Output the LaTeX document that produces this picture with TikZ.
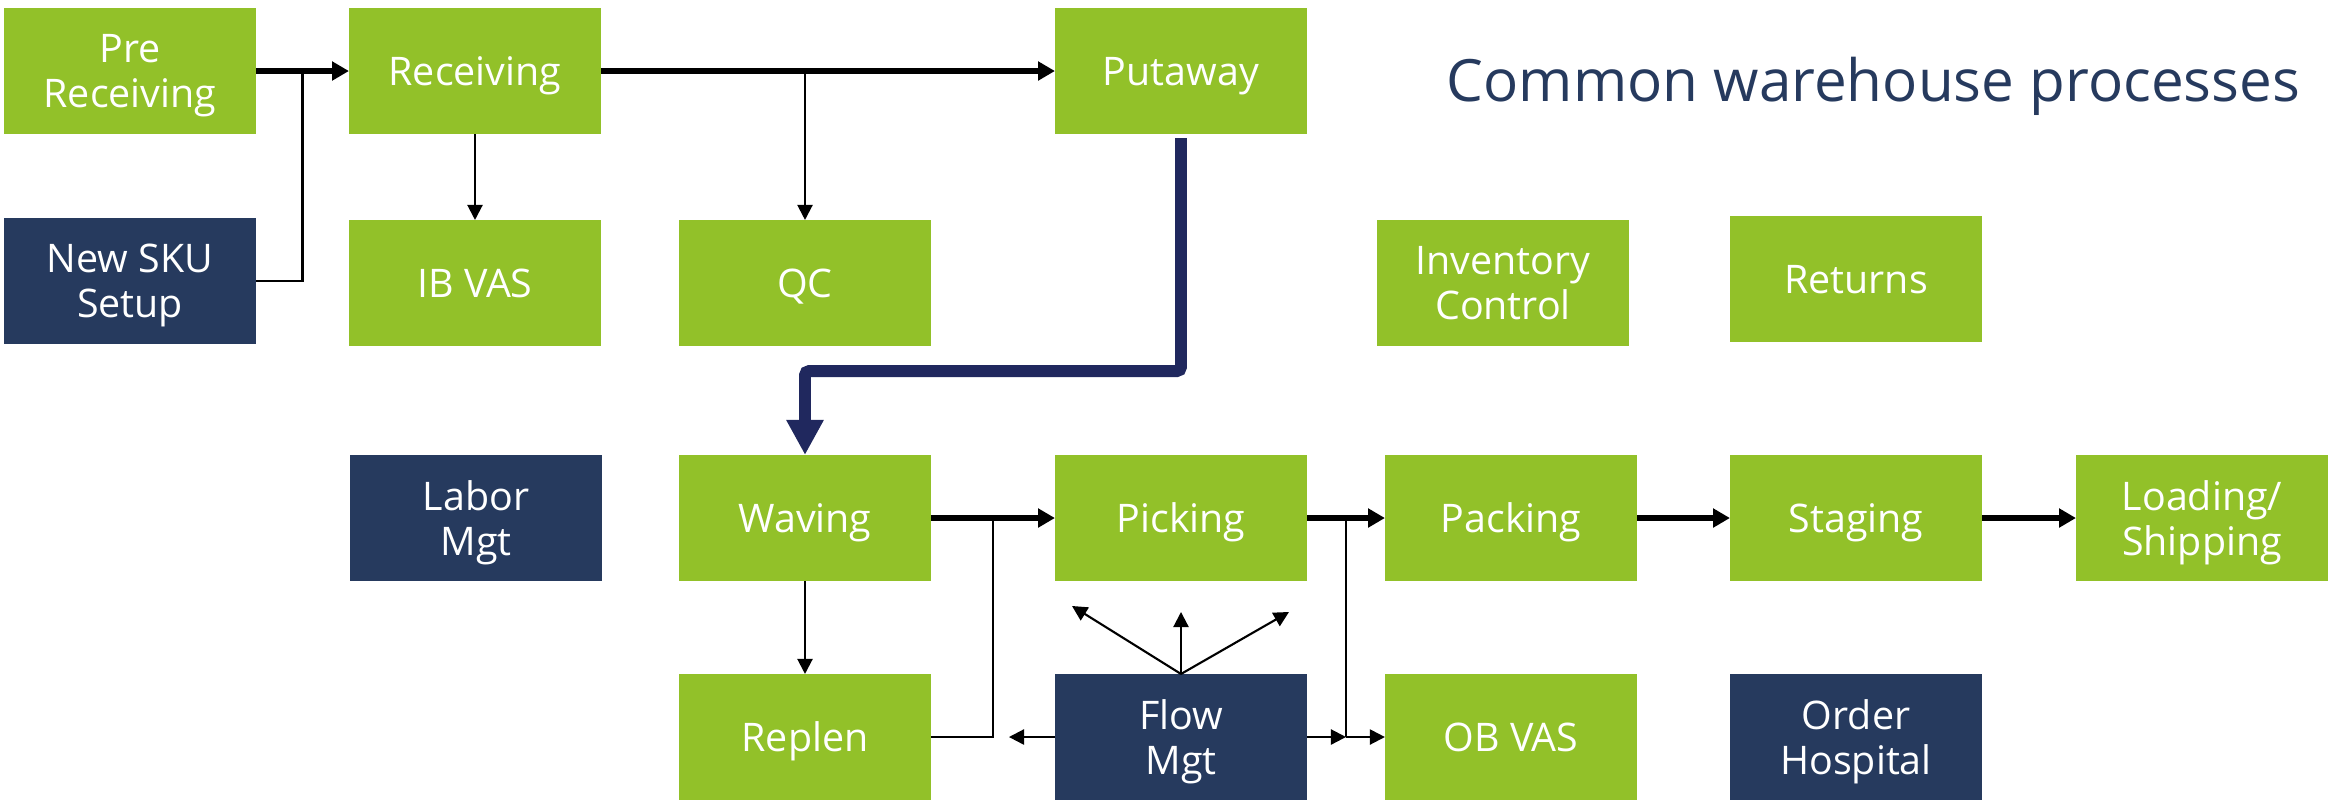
\documentclass[tikz,border=0pt]{standalone}
\usepackage{fontspec}
\setmainfont{Open Sans}
\usepackage{tikz}
\usetikzlibrary{calc,arrows.meta}

\definecolor{boxgreen}{RGB}{146,193,41}
\definecolor{boxnavy}{RGB}{38,58,94}
\definecolor{linknavy}{RGB}{32,40,94}

\tikzset{
  proc/.style={minimum width=2.52cm,minimum height=1.26cm,inner sep=0pt,outer sep=0pt,
    text depth=0pt,text=white,align=center,font=\fontsize{11.2}{12.8}\selectfont},
  gbox/.style={proc,fill=boxgreen},
  nbox/.style={proc,fill=boxnavy},
  mainflow/.style={line width=1.7pt,-{Triangle[length=4.8pt,width=5.2pt]}},
  sideflow/.style={line width=0.6pt,-{Triangle[length=4.3pt,width=4.3pt]}},
  sideline/.style={line width=0.6pt},
}

\begin{document}
\begin{tikzpicture}[x=0.01cm,y=-0.01cm]
  \useasboundingbox (0,0) rectangle (2331,808);
  % title
  \node[anchor=base west,text=boxnavy,inner sep=0pt,font=\fontsize{16.6}{20}\selectfont] (title) at (1446,101) {Common warehouse processes};
  % inbound
  \node[gbox] (pre) at (130,71) {Pre\\Receiving};
  \node[gbox] (recv) at (475,71) {Receiving};
  \node[gbox] (putaway) at (1181,71) {Putaway};
  \node[nbox] (newsku) at (130,281) {New SKU\\Setup};
  \node[gbox] (ibvas) at (475,283) {IB VAS};
  \node[gbox] (qc) at (805,283) {QC};
  \node[gbox] (invctl) at (1503,283) {Inventory\\Control};
  \node[gbox] (returns) at (1856,279) {Returns};
  % outbound
  \node[nbox] (labor) at (476,518) {Labor\\Mgt};
  \node[gbox] (waving) at (805,518) {Waving};
  \node[gbox] (picking) at (1181,518) {Picking};
  \node[gbox] (packing) at (1511,518) {Packing};
  \node[gbox] (staging) at (1856,518) {Staging};
  \node[gbox] (loading) at (2202,518) {Loading/\\Shipping};
  \node[gbox] (replen) at (805,737) {Replen};
  \node[nbox] (flow) at (1181,737) {Flow\\Mgt};
  \node[gbox] (obvas) at (1511,737) {OB VAS};
  \node[nbox] (hospital) at (1856,737) {Order\\Hospital};

  % junctions
  \coordinate (j1) at ($(pre.east)!0.5!(recv.west)$);
  \coordinate (j2) at ($(waving.east)!0.5!(picking.west)$);
  \coordinate (j3) at ($(picking.east)!0.5!(packing.west)$);
  \coordinate (j4) at (j3 |- obvas.west);
  \coordinate (fw) at ($(flow.west)+(-46,0)$);
  \coordinate (fl) at ($(flow.north)+(-109,-68)$);
  \coordinate (fm) at ($(flow.north)+(0,-62)$);
  \coordinate (fr) at ($(flow.north)+(108,-62)$);

  % main line
  \draw[mainflow] (pre) -- (recv);
  \draw[mainflow] (recv) -- (putaway);
  \draw[mainflow] (waving) -- (picking);
  \draw[mainflow] (picking) -- (packing);
  \draw[mainflow] (packing) -- (staging);
  \draw[mainflow] (staging) -- (loading);
  % putaway to waving
  \draw[linknavy,line width=3.4pt,rounded corners=1.2pt,-{Triangle[length=10pt,width=10pt]}]
    ($(putaway.south)+(0,4)$) -- ++(0,233) -| (waving.north);
  % side lines
  \draw[sideline] (newsku.east) -| (j1);
  \draw[sideflow] (recv) -- (ibvas);
  \draw[sideflow] (qc.north |- recv.east) -- (qc);
  \draw[sideflow] (waving) -- (replen);
  \draw[sideline] (replen.east) -| (j2);
  \draw[sideline] (j3) -- (j4);
  \draw[sideflow] (flow.east) -- (j4);
  \draw[sideflow] (j4) -- (obvas.west);
  \draw[sideflow] (flow.west) -- (fw);
  \draw[sideflow] (flow.north) -- (fl);
  \draw[sideflow] (flow.north) -- (fm);
  \draw[sideflow] (flow.north) -- (fr);
\end{tikzpicture}
\end{document}
